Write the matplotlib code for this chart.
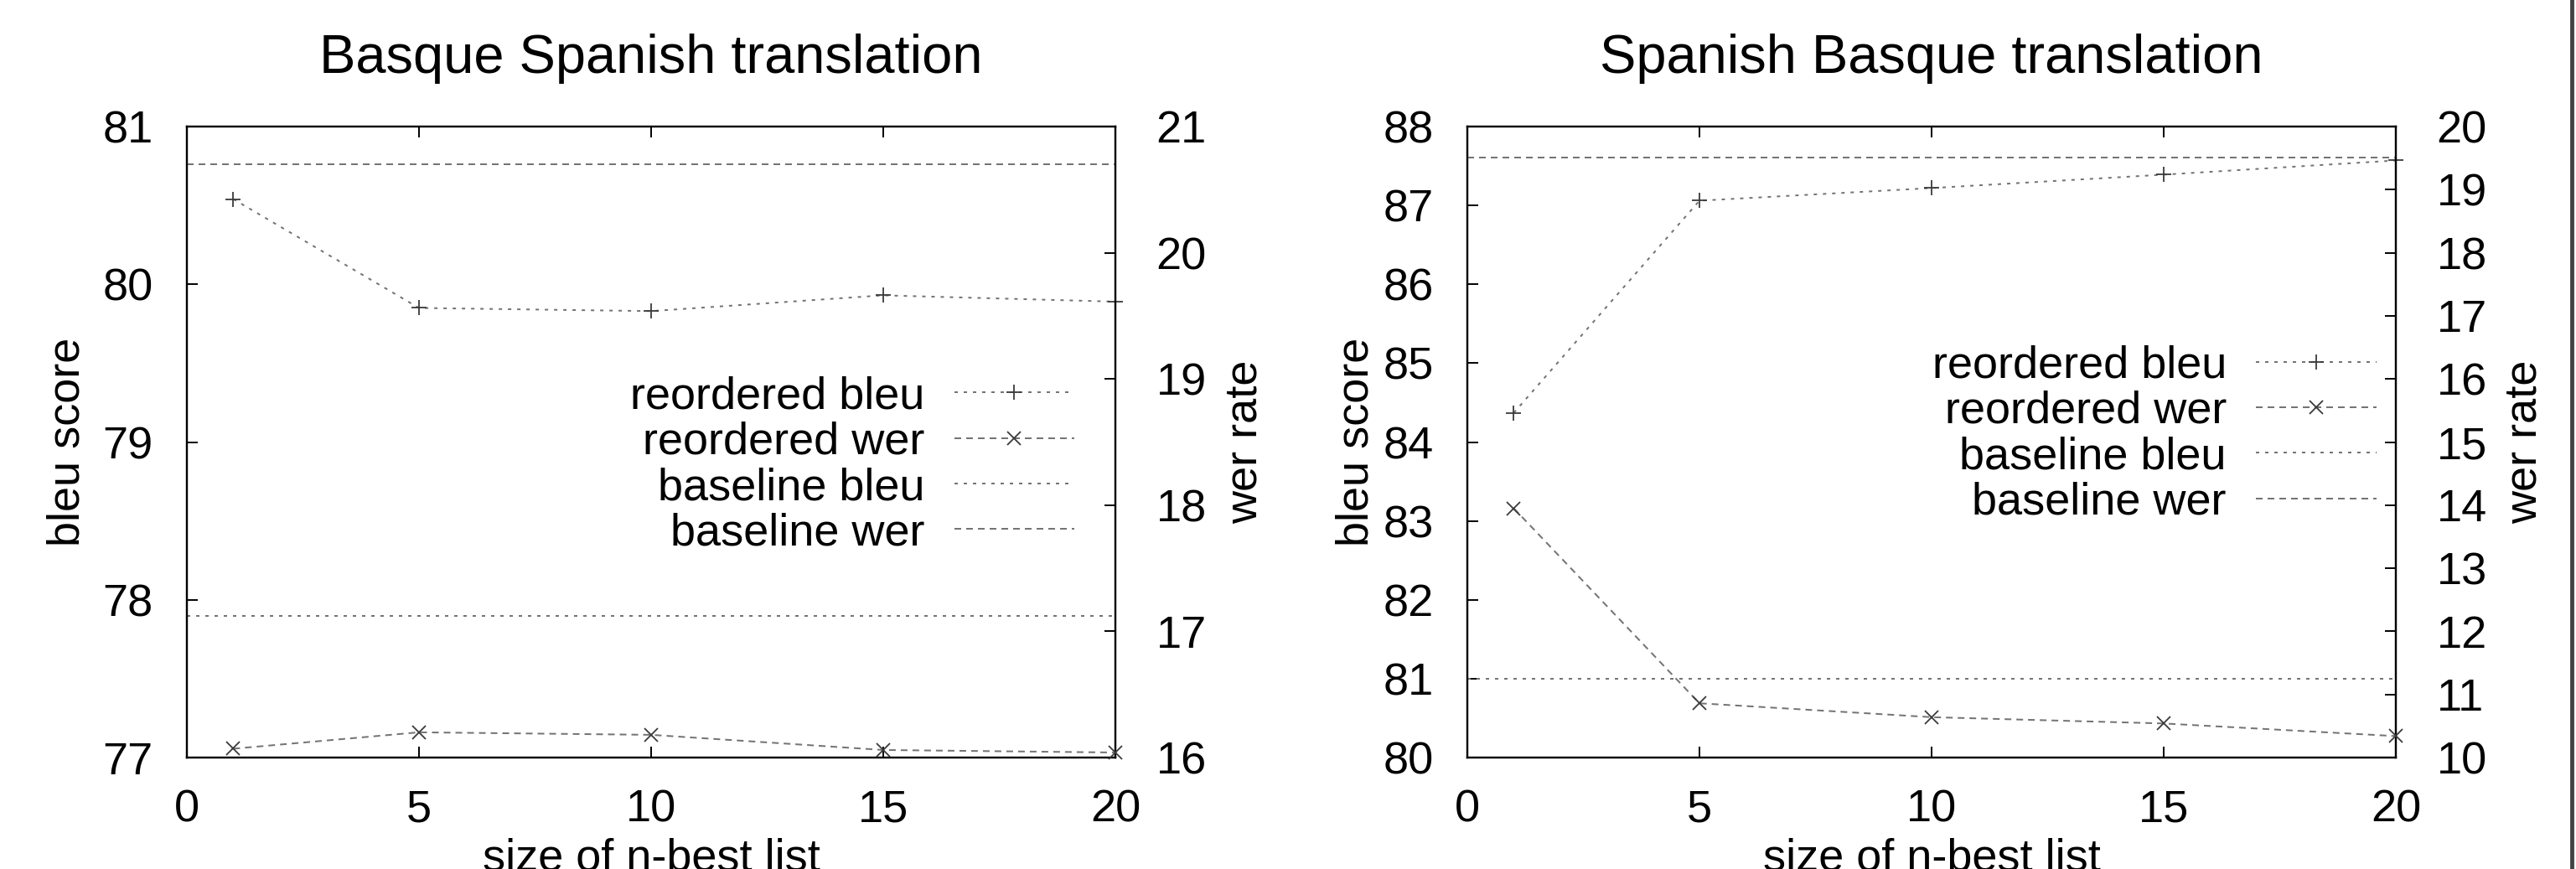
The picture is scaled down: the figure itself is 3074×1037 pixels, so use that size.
import matplotlib
matplotlib.use('Agg')
import matplotlib.pyplot as plt
from matplotlib.lines import Line2D

plt.rcParams['font.family'] = ['Liberation Sans', 'DejaVu Sans']
plt.rcParams['font.size'] = 39

# n-best list sizes
nbest = [1, 5, 10, 15, 20]

# Basque -> Spanish
eu_es_bleu = [80.54, 79.85, 79.83, 79.93, 79.89]
eu_es_wer = [16.07, 16.20, 16.18, 16.06, 16.04]
eu_es_base_bleu = 77.90
eu_es_base_wer = 20.70

# Spanish -> Basque
es_eu_bleu = [84.37, 87.06, 87.22, 87.39, 87.57]
es_eu_wer = [13.95, 10.86, 10.64, 10.54, 10.34]
es_eu_base_bleu = 81.00
es_eu_base_wer = 19.51

titles = ['Basque Spanish translation', 'Spanish Basque translation']
labels = ['reordered bleu', 'reordered wer', 'baseline bleu', 'baseline wer']

LINE_C = '#747474'
MARK_C = '#3a3a3a'
DOT = (0, (2, 3.5))
DASH = (0, (4, 3))
LW = 1.44

W, H = 3074, 1037
fig = plt.figure(figsize=(W / 100, H / 100), dpi=100)


def px_axes(x0, x1, y0, y1):
    return fig.add_axes([x0 / W, 1 - y1 / H, (x1 - x0) / W, (y1 - y0) / H])


def panel(ax, title, bleu, wer, base_bleu, base_wer, ylim, y2lim):
    ax2 = ax.twinx()
    l1, = ax.plot(nbest, bleu, linestyle=DOT, color=LINE_C, lw=LW, marker='+',
                  ms=13, mec=MARK_C, mew=1.3, clip_on=False, zorder=3)
    l3 = ax.axhline(base_bleu, linestyle=DOT, color=LINE_C, lw=LW)
    l2, = ax2.plot(nbest, wer, linestyle=DASH, color=LINE_C, lw=LW, marker='x',
                   ms=12, mec=MARK_C, mew=1.3, clip_on=False, zorder=3)
    l4 = ax2.axhline(base_wer, linestyle=DASH, color=LINE_C, lw=LW)

    ax.set_xlim(0, 20)
    ax.set_ylim(*ylim)
    ax2.set_ylim(*y2lim)
    ax.set_xticks([0, 5, 10, 15, 20])
    ax.set_yticks(range(int(ylim[0]), int(ylim[1]) + 1))
    ax2.set_yticks(range(int(y2lim[0]), int(y2lim[1]) + 1))

    ax.tick_params(axis='x', direction='in', top=True, length=9.5, width=1.4, pad=27)
    ax.tick_params(axis='y', direction='in', length=9.5, width=1.4, pad=29)
    ax2.tick_params(axis='y', direction='in', length=9.5, width=1.4, pad=35)
    for a in (ax, ax2):
        for s in a.spines.values():
            s.set_linewidth(1.6)

    ax.set_title(title, y=1.085, pad=0)
    ax.text(0.5, -0.178, 'size of n-best list', transform=ax.transAxes,
            ha='center', va='baseline')
    ax.set_ylabel('bleu score', va='baseline')
    ax2.set_ylabel('wer rate', va='baseline')
    return ax2, [l1, l2, l3, l4]


def add_legend(ax, handles, anchor):
    ax.legend(handles, labels, loc='upper right', bbox_to_anchor=anchor,
              frameon=False, markerfirst=False, handlelength=2.65,
              handletextpad=0.65, labelspacing=0.08, borderpad=0,
              borderaxespad=0)


ax_a = px_axes(223, 1331, 151, 904)
ax_b = px_axes(1751, 2859, 151, 904)

a2, h = panel(ax_a, titles[0], eu_es_bleu, eu_es_wer, eu_es_base_bleu,
              eu_es_base_wer, (77, 81), (16, 21))
ax_a.yaxis.set_label_coords(-0.1164, 0.5)
a2.yaxis.set_label_coords(1.1525, 0.5)
add_legend(a2, h, (0.956, 0.605))

b2, h = panel(ax_b, titles[1], es_eu_bleu, es_eu_wer, es_eu_base_bleu,
              es_eu_base_wer, (80, 88), (10, 20))
ax_b.yaxis.set_label_coords(-0.1065, 0.5)
b2.yaxis.set_label_coords(1.1516, 0.5)
add_legend(b2, h, (0.979, 0.654))

# page edge on the right side
fig.add_artist(Line2D([3069 / W, 3069 / W], [0, 1], color='#444444', lw=3.5))

fig.savefig('out.png', dpi=100)
